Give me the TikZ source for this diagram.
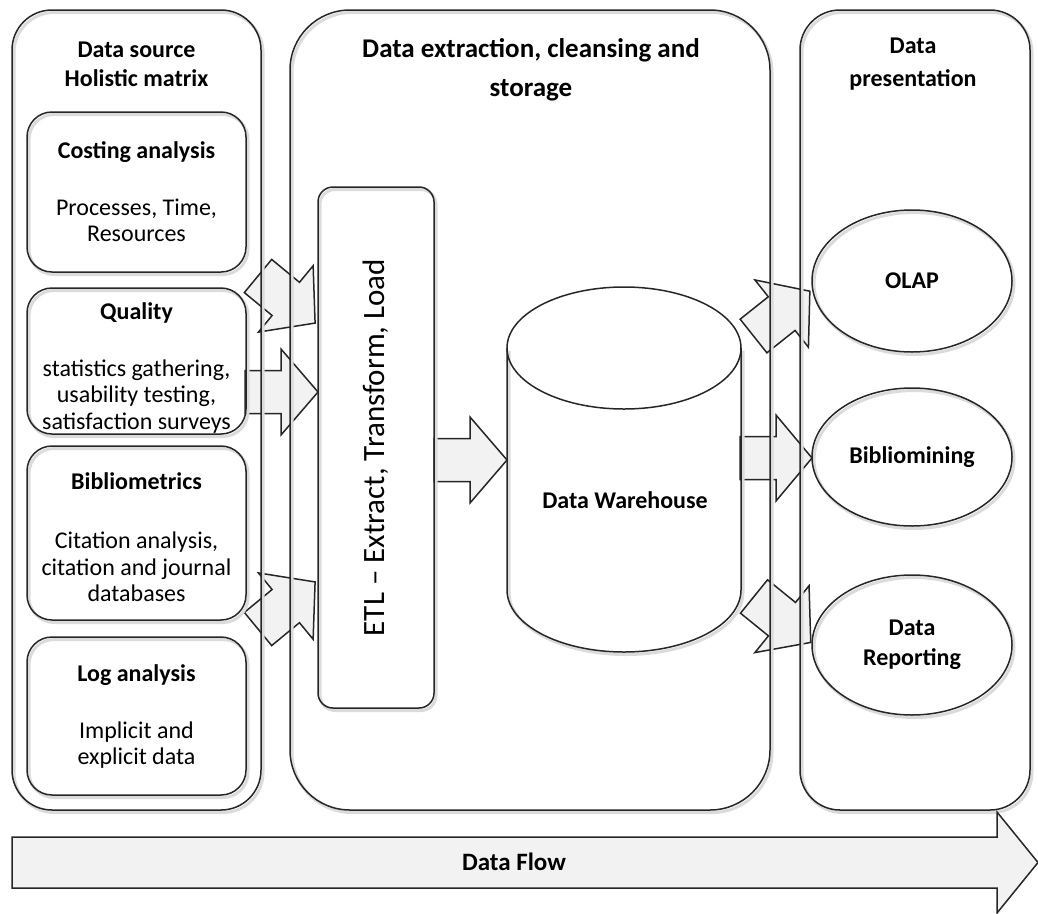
\documentclass[tikz,border=0pt]{standalone}
\usepackage{fontspec}
\setmainfont{Carlito}
\usetikzlibrary{shapes.geometric}
\definecolor{linec}{HTML}{262626}
\definecolor{arrowfill}{HTML}{F2F2F2}
\tikzset{
  shadowed/.style={preaction={draw=black!14, line width=3pt, transform canvas={xshift=2pt,yshift=-2.5pt}}},
  panel/.style={draw=linec, line width=1.5pt, shadowed, inner sep=0pt},
  inbox/.style={draw=linec, line width=1.5pt, rounded corners=25pt, shadowed, minimum width=219pt, inner sep=0pt},
  intext/.style={align=center, inner sep=0pt, font=\fontsize{24}{26.5}\selectfont},
  ell/.style={ellipse, draw=linec, line width=1.5pt, shadowed, minimum width=200pt, align=center, font=\bfseries\fontsize{24}{30}\selectfont},
  blockarr/.style={draw=linec, line width=1.5pt, fill=arrowfill, line join=miter},
  title/.style={align=center, font=\bfseries\fontsize{24}{29}\selectfont},
}
\newcommand\blockarrow[3]{\draw[blockarr, shift={(#1)}, rotate=#2] (0,-21.5) -- (36,-21.5) -- (36,-43) -- (#3,0) -- (36,43) -- (36,21.5) -- (0,21.5) -- cycle;}
\begin{document}
\begin{tikzpicture}[x=1pt, y=-1pt, font=\fontsize{24}{26.5}\selectfont]
\useasboundingbox (0,0) rectangle (1038,913);
% block arrows (drawn first, lines of boxes lie over them)
\blockarrow{258,276}{-39.5}{74}
\blockarrow{245,392}{0}{73}
\blockarrow{258,629}{39.5}{74}
\blockarrow{434,460}{0}{73}
\blockarrow{753.5,336}{38.5}{72}
\blockarrow{740,458}{0}{72}
\blockarrow{754,596.5}{-39}{73}
% panels
\node[panel, rounded corners=40pt, minimum width=249pt, minimum height=800pt] (L) at (136.5,410) {};
\node[panel, rounded corners=60pt, minimum width=480pt, minimum height=800pt] (M) at (530,410) {};
\node[panel, rounded corners=40pt, minimum width=230pt, minimum height=800pt] (R) at (915,410) {};
% panel titles
\node[title] (Lt) at (136.5,64) {Data source\\[0pt]Holistic matrix};
\node[title, font=\bfseries\fontsize{27}{29}\selectfont] (Mt) at (531,70) {Data extraction, cleansing and\\[10pt]storage};
\node[title] (Rt) at (913,64) {Data\\[4pt]presentation};
% left boxes
\node[inbox, minimum height=160pt] (cost) at (136.5,192) {};
\node[intext] (costt) at (136.5,192) {\textbf{Costing analysis}\\[30pt]Processes, Time,\\Resources};
\node[inbox, minimum height=146pt] (qual) at (136.5,361) {};
\node[intext] (qualt) at (136.5,368) {\textbf{Quality}\\[30pt]statistics gathering,\\usability testing,\\satisfaction surveys};
\node[inbox, minimum height=174pt] (bib) at (136.5,533) {};
\node[intext] (bibt) at (136.5,537) {\textbf{Bibliometrics}\\[33pt]Citation analysis,\\citation and journal\\databases};
\node[inbox, minimum height=158pt] (log) at (136.5,716) {};
\node[intext] (logt) at (136.5,717) {\textbf{Log analysis}\\[30pt]Implicit and\\explicit data};
% ETL
\node[draw=linec, line width=1.5pt, rounded corners=15pt, shadowed, rotate=90, minimum width=521pt, minimum height=116pt, inner sep=0pt, font=\fontsize{31}{36}\selectfont] (etl) at (376,447.5) {ETL – Extract, Transform, Load};
% Data warehouse cylinder
\coordinate (wtl) at (507,348);
\coordinate (wbl) at (507,590);
\coordinate (wtr) at (741,348);
\coordinate (wc) at (624,348);
\draw[linec, line width=1.5pt, preaction={draw=black!14, line width=3pt, transform canvas={xshift=2pt,yshift=-2.5pt}}]
  (wtl) -- (wbl) arc[start angle=180, end angle=360, x radius=117pt, y radius=62pt] -- (wtr);
\draw[linec, line width=1.5pt] (wc) ellipse[x radius=117pt, y radius=61pt];
\node[font=\bfseries\fontsize{24}{26.5}\selectfont] (wh) at (625,500) {Data Warehouse};
% presentation ellipses
\node[ell, minimum height=142pt] (olap) at (912,281) {OLAP};
\node[ell, minimum height=138pt] (bmin) at (912,457) {Bibliomining};
\node[ell, minimum height=140pt] (rep) at (912,645) {Data\\Reporting};
% data flow arrow
\draw[blockarr] (12,837) -- (997,837) -- (997,812) -- (1038,862.5) -- (997,913) -- (997,888) -- (12,888) -- cycle;
\node[font=\bfseries\fontsize{25}{28}\selectfont] (flow) at (514,862) {Data Flow};
\end{tikzpicture}
\end{document}
